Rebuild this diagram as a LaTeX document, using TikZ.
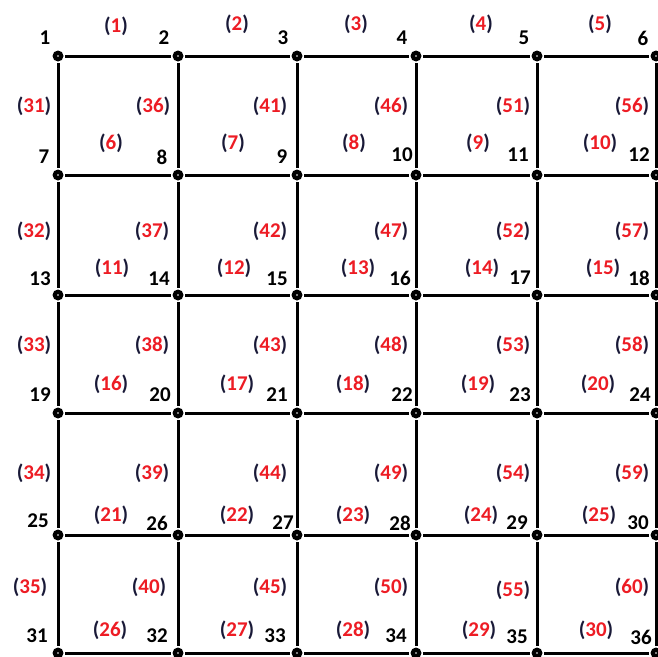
\documentclass[tikz,border=0pt]{standalone}
\usepackage{fontspec}
\setmainfont{Carlito}
\definecolor{lred}{RGB}{237,28,36}
\definecolor{pcol}{RGB}{25,25,55}
\newcommand\elabtext[1]{\textcolor{pcol}{(}\textcolor{lred}{#1}\textcolor{pcol}{)}}
\begin{document}
\begin{tikzpicture}[x=1pt,y=-1pt,
  vtx/.style={circle,fill=black,inner sep=0pt,minimum size=11pt,outer sep=1.5pt,
    path picture={\fill[white] (path picture bounding box.center) circle (0.9pt);}},
  edgeline/.style={line width=3pt,black},
  num/.style={font=\fontsize{21}{25}\selectfont\bfseries,text=black,inner sep=0pt},
  elab/.style={font=\fontsize{21}{25}\selectfont\bfseries,inner sep=0pt}]
\useasboundingbox (0,0) rectangle (658,656);
\clip (0,0) rectangle (658,656);
% vertices
\foreach \yy [count=\ri from 0] in {56,175,295,413,535,653}{
  \foreach \xx [count=\ci from 0] in {58,178,297,416,537,656}{
    \pgfmathtruncatemacro\k{\ri*6+\ci+1}
    \node[vtx] (v\k) at (\xx,\yy) {};
  }
}
% horizontal edges
\foreach \ri in {0,...,5}{
  \foreach \ci in {0,...,4}{
    \pgfmathtruncatemacro\a{\ri*6+\ci+1}
    \pgfmathtruncatemacro\b{\a+1}
    \draw[edgeline] (v\a) -- (v\b);
  }
}
% vertical edges
\foreach \ri in {0,...,4}{
  \foreach \ci in {0,...,5}{
    \pgfmathtruncatemacro\a{\ri*6+\ci+1}
    \pgfmathtruncatemacro\b{\a+6}
    \draw[edgeline] (v\a) -- (v\b);
  }
}
% vertex numbers
\foreach \t/\x/\y in {1/45/38,2/164/38,3/283/38,4/402/38,5/524/38,6/643/38,
  7/44/157,8/162/157,9/282/157,10/402/155,11/518/155,12/639/155,
  13/40/279,14/159/279,15/277/279,16/400/278,17/520/278,18/639/278,
  19/40/395,20/160/395,21/277/395,22/402/395,23/520/395,24/640/395,
  25/38/521,26/157/523,27/283/523,28/400/523,29/517/523,30/638/523,
  31/37/636,32/157/636,33/275/636,34/396/636,35/517/637,36/641/637}{
  \node[num] (l\t) at (\x,\y) {\t};
}
% edge labels
\foreach \t/\x/\y in {1/116/26,2/237/24,3/356/24,4/481/24,5/600/24,
  6/111/143,7/233/143,8/354/143,9/478/143,10/600/143,
  11/112/268,12/234/268,13/358/268,14/482/268,15/603/268,
  16/111/384,17/237/384,18/353/384,19/478/384,20/598/384,
  21/111/515,22/237/515,23/353/515,24/481/515,25/599/515,
  26/110/630,27/237/630,28/353/630,29/479/630,30/596/630,
  31/34/106,32/34/231,33/34/345,34/34/473,35/30/587,
  36/153/106,37/152/231,38/152/345,39/152/473,40/149/587,
  41/270/106,42/270/231,43/270/345,44/270/473,45/270/587,
  46/391/106,47/391/231,48/391/345,49/391/473,50/391/587,
  51/513/106,52/513/231,53/513/345,54/513/473,55/513/590,
  56/632/106,57/632/231,58/632/345,59/632/473,60/632/587}{
  \node[elab] (e\t) at (\x,\y) {\elabtext{\t}};
}
\end{tikzpicture}
\end{document}
